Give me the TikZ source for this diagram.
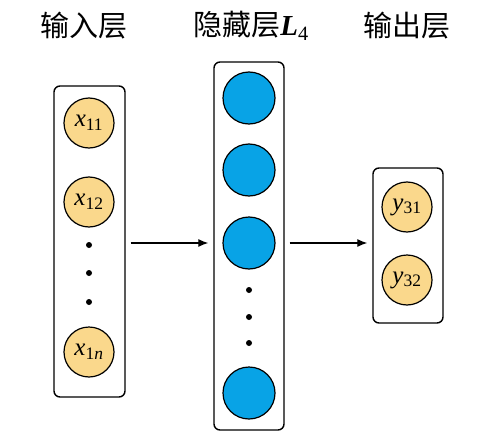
\documentclass[tikz,border=0pt]{standalone}
\usepackage{fontspec}
\setmainfont{Liberation Serif}
\newfontfamily\cjk{Noto Sans CJK SC}
\usetikzlibrary{arrows.meta}
\definecolor{yel}{RGB}{250,216,140}
\definecolor{blu}{RGB}{8,163,230}
\begin{document}
\begin{tikzpicture}[x=1pt,y=-1pt,
  layerbox/.style={draw,line width=1.4pt,rounded corners=6pt},
  inn/.style={circle,draw,line width=1.2pt,fill=yel,minimum size=50pt,inner sep=0pt,font=\fontsize{25}{27}\selectfont},
  hid/.style={circle,draw,line width=1.2pt,fill=blu,minimum size=52pt,inner sep=0pt},
  dotn/.style={circle,fill=black,minimum size=6pt,inner sep=0pt},
  ttl/.style={font=\fontsize{29}{31}\selectfont},
  conn/.style={line width=1.2pt,-{Latex[length=10pt,width=8pt]}}]
\useasboundingbox (0,0) rectangle (495,444);
% boxes
\node[layerbox,minimum width=71pt,minimum height=311pt,inner sep=0pt] (b1) at (89.5,241.5) {};
\node[layerbox,minimum width=70pt,minimum height=368pt,inner sep=0pt] (b2) at (249,246) {};
\node[layerbox,minimum width=70pt,minimum height=155pt,inner sep=0pt] (b3) at (408,245.5) {};
% titles
\node[ttl] (t1) at (84,26) {\cjk 输入层};
\node[ttl] (t2) at (251,26) {{\cjk 隐藏层}\textbf{\textit{L}}\textsubscript{4}};
\node[ttl] (t3) at (407,26) {\cjk 输出层};
% input layer
\node[inn] (x11) at (89,123) {\textit{x}\textsubscript{11}};
\node[inn] (x12) at (89,202) {\textit{x}\textsubscript{12}};
\node[dotn] (d1) at (89,245) {};
\node[dotn] (d2) at (89,273) {};
\node[dotn] (d3) at (89,302) {};
\node[inn] (x1n) at (89,352) {\textit{x}\textsubscript{1\textit{n}}};
% hidden layer
\node[hid] (h1) at (249,98) {};
\node[hid] (h2) at (249,170) {};
\node[hid] (h3) at (249,243) {};
\node[dotn] (e1) at (249,290) {};
\node[dotn] (e2) at (249,317) {};
\node[dotn] (e3) at (249,343) {};
\node[hid] (h4) at (249,393) {};
% output layer
\node[inn] (y31) at (407,207) {\textit{y}\textsubscript{31}};
\node[inn] (y32) at (407,280) {\textit{y}\textsubscript{32}};
% connectors
\draw[conn] ([xshift=5pt]b1.east |- h3) -- ([xshift=-5pt]b2.west |- h3);
\draw[conn] ([xshift=5pt]b2.east |- h3) -- ([xshift=-5pt]b3.west |- h3);
\end{tikzpicture}
\end{document}
